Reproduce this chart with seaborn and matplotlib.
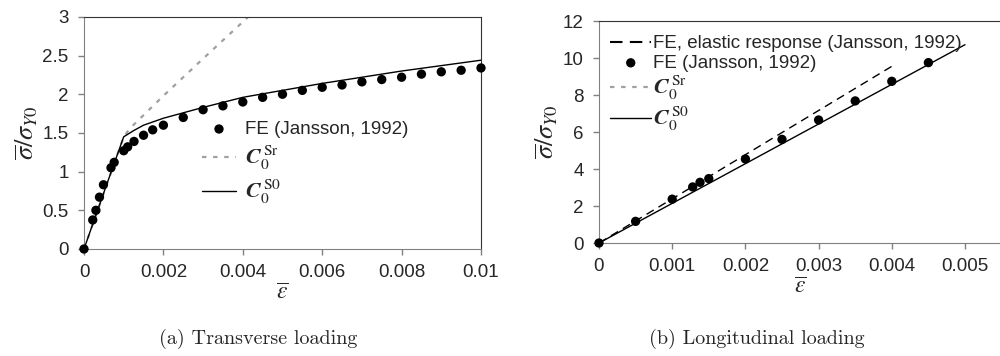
import matplotlib
matplotlib.use("Agg")
import matplotlib.pyplot as plt
import seaborn as sns

# (a) transverse loading
fe_a_strain = [0, 0.00022, 0.0003, 0.00039, 0.00049, 0.00068, 0.00076, 0.001, 0.0011,
               0.00126, 0.0015, 0.00173, 0.002, 0.0025, 0.003, 0.0035, 0.004, 0.0045,
               0.005, 0.0055, 0.006, 0.0065, 0.007, 0.0075, 0.008, 0.0085, 0.009, 0.0095, 0.01]
fe_a_stress = [0, 0.375, 0.5, 0.67, 0.83, 1.05, 1.12, 1.27, 1.32, 1.39, 1.47, 1.54, 1.6,
               1.7, 1.8, 1.85, 1.9, 1.96, 2.0, 2.05, 2.09, 2.12, 2.16, 2.19, 2.22, 2.26,
               2.29, 2.31, 2.34]
s0_a_strain = [0, 0.0005, 0.001, 0.00125, 0.0015, 0.002, 0.003, 0.004, 0.005, 0.006, 0.007, 0.008, 0.009, 0.01]
s0_a_stress = [0, 0.73, 1.45, 1.53, 1.60, 1.69, 1.83, 1.96, 2.05, 2.14, 2.22, 2.30, 2.37, 2.44]
sr_a_strain = [0, 0.001, 0.00116, 0.002, 0.003, 0.0042]
sr_a_stress = [0, 1.45, 1.56, 1.98, 2.46, 3.03]

# (b) longitudinal loading
fe_b_strain = [0, 0.0005, 0.001, 0.00128, 0.00138, 0.0015, 0.002, 0.0025, 0.003, 0.0035, 0.004, 0.0045]
fe_b_stress = [0, 1.17, 2.37, 3.03, 3.28, 3.48, 4.54, 5.6, 6.65, 7.68, 8.74, 9.75]
s0_b_strain = [0, 0.005]
s0_b_stress = [0, 10.72]
el_b_strain = [0, 0.004]
el_b_stress = [0, 9.55]

sns.set_style("ticks")
plt.rcParams["font.family"] = ["Liberation Sans", "DejaVu Sans"]
plt.rcParams["mathtext.fontset"] = "stix"

fig = plt.figure(figsize=(10, 3.56), dpi=100)
ax1 = fig.add_axes([0.084, 0.3006, 0.397, 0.652])
ax2 = fig.add_axes([0.599, 0.3174, 0.4026, 0.6236])

c_sr = r"$\boldsymbol{C}_{0}^{\;\mathrm{Sr}}$"
c_s0 = r"$\boldsymbol{C}_{0}^{\;\mathrm{S0}}$"
sr_style = dict(color="#a0a0a0", lw=1.6, linestyle=(0, (2, 3)))

# --- left panel
sns.lineplot(x=sr_a_strain, y=sr_a_stress, ax=ax1, label=c_sr, zorder=2, **sr_style)
sns.lineplot(x=s0_a_strain, y=s0_a_stress, ax=ax1, color="black", lw=1.0, label=c_s0, zorder=3)
sns.scatterplot(x=fe_a_strain, y=fe_a_stress, ax=ax1, color="black", s=45,
                edgecolor="none", label="FE (Jansson, 1992)", zorder=4, clip_on=False)
ax1.set_xlim(0, 0.01)
ax1.set_ylim(0, 3)
ax1.set_xticks([0, 0.002, 0.004, 0.006, 0.008, 0.01])
ax1.set_xticklabels(["0", "0.002", "0.004", "0.006", "0.008", "0.01"])
ax1.set_yticks([0, 0.5, 1, 1.5, 2, 2.5, 3])
ax1.set_yticklabels(["0", "0.5", "1", "1.5", "2", "2.5", "3"])
h, l = ax1.get_legend_handles_labels()
order = [2, 0, 1]
leg1 = ax1.legend([h[i] for i in order], [l[i] for i in order], loc="upper left",
                  bbox_to_anchor=(0.255, 0.625), frameon=False, fontsize=13.5,
                  handlelength=1.8, handletextpad=0.5, labelspacing=0.3)
for t in leg1.get_texts()[1:]:
    t.set_fontsize(16)

# --- right panel
sns.lineplot(x=el_b_strain, y=el_b_stress, ax=ax2, color="black", lw=1.0,
             linestyle=(0, (6, 4)), label="FE, elastic response (Jansson, 1992)", zorder=2)
sns.scatterplot(x=fe_b_strain, y=fe_b_stress, ax=ax2, color="black", s=45,
                edgecolor="none", label="FE (Jansson, 1992)", zorder=4, clip_on=False)
ax2.plot([], [], label=c_sr, **sr_style)
sns.lineplot(x=s0_b_strain, y=s0_b_stress, ax=ax2, color="black", lw=1.0, label=c_s0, zorder=3)
ax2.set_xlim(0, 0.0055)
ax2.set_ylim(0, 12)
ax2.set_xticks([0, 0.001, 0.002, 0.003, 0.004, 0.005])
ax2.set_xticklabels(["0", "0.001", "0.002", "0.003", "0.004", "0.005"])
ax2.set_yticks([0, 2, 4, 6, 8, 10, 12])
leg2 = ax2.legend(loc="upper left", bbox_to_anchor=(-0.005, 0.995), frameon=False, fontsize=13.5,
                  handlelength=2.2, handletextpad=0.1, labelspacing=0.12, borderaxespad=0.3)
for t in leg2.get_texts()[2:]:
    t.set_fontsize(16)
for ln in leg2.get_lines()[:1]:
    ln.set_linewidth(1.5)
    ln.set_linestyle((0, (6, 3.5)))

for ax in (ax1, ax2):
    for side in ("left", "bottom"):
        ax.spines[side].set_color("#808080")
    for side in ("top", "right"):
        ax.spines[side].set_color("#333333")
        ax.spines[side].set_visible(True)
    ax.tick_params(axis="both", labelsize=13.5, color="#808080", length=4, width=1, pad=7)
    ax.set_xlabel(r"$\overline{\varepsilon}$", fontsize=17, labelpad=1)
    ax.set_ylabel(r"$\overline{\sigma}/\sigma_{Y0}$", fontsize=19, labelpad=2)

fig.text(0.258, 0.035, "(a) Transverse loading", ha="center", fontsize=14.5, family="cmr10")
fig.text(0.757, 0.035, "(b) Longitudinal loading", ha="center", fontsize=14.5, family="cmr10")

fig.savefig("out.png", dpi=100)
